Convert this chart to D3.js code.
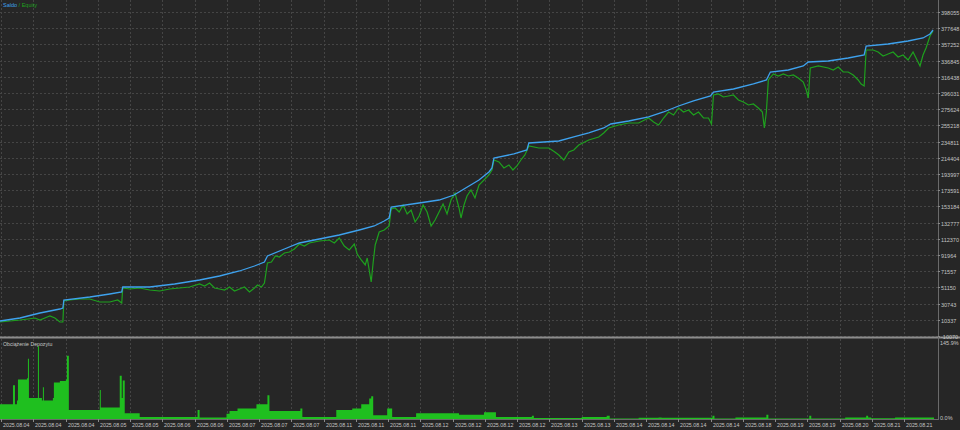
<!DOCTYPE html>
<html><head><meta charset="utf-8">
<script src="https://cdn.jsdelivr.net/npm/d3@7"></script>
<style>html,body{margin:0;padding:0;background:#262626;}svg{display:block;}</style>
</head><body><svg id="c" width="960" height="430"></svg>
<script>
// ---- data ----
const yTickLabels = ["398055","377648","357252","336845","316438","296031","275624","255218","234811","214404","193997","173591","153184","132777","112370","91964","71557","51150","30743","10337","-10070"];
const xTickLabels = ["2025.08.04","2025.08.04","2025.08.04","2025.08.05","2025.08.05","2025.08.06","2025.08.06","2025.08.07","2025.08.07","2025.08.07","2025.08.11","2025.08.11","2025.08.11","2025.08.12","2025.08.12","2025.08.12","2025.08.12","2025.08.13","2025.08.13","2025.08.14","2025.08.14","2025.08.14","2025.08.14","2025.08.18","2025.08.19","2025.08.19","2025.08.20","2025.08.21","2025.08.21"];
const marginLabels = ["145.9%","0.0%"];
const marginMax = 145.9;
// [deal index, balance]
const balance = [[0,8826],[20,12605],[40,18903],[60,23942],[63,25202],[64,35279],[90,39058],[110,42837],[122,45357],[123,51655],[150,51655],[175,55434],[200,60473],[220,65512],[240,71811],[255,78109],[265,83148],[268,90706],[285,99524],[300,107082],[320,112121],[340,117160],[360,123458],[375,128497],[385,134796],[390,138575],[392,152431],[420,157470],[440,161249],[455,167548],[465,175106],[470,178885],[480,186443],[490,196521],[493,201560],[495,214157],[515,219195],[528,224234],[530,233052],[545,234312],[560,235572],[575,240610],[590,245649],[605,251948],[612,256986],[630,260766],[650,265804],[665,272103],[680,279661],[695,285960],[712,292258],[715,297297],[735,301076],[755,307374],[768,312413],[772,322491],[790,325010],[805,330049],[810,335088],[830,336348],[850,340127],[866,343906],[868,355243],[890,357762],[910,361542],[925,365321],[932,370359],[935,375398]];
// [deal index, equity]
const equity = [[0,7570],[10,8830],[20,10090],[28,11340],[35,12600],[40,10090],[45,12600],[50,15120],[55,12600],[60,7570],[63,7570],[64,34020],[70,35280],[80,36540],[90,36540],[100,32760],[110,32760],[118,35280],[122,31500],[123,50400],[130,49140],[140,50400],[150,47880],[160,46620],[170,49140],[180,50400],[190,51660],[200,55430],[205,52920],[210,56690],[215,50400],[220,49140],[225,47880],[230,51660],[235,46620],[240,49140],[245,51660],[250,45360],[255,50400],[258,54180],[262,51660],[265,56690],[268,81890],[272,83150],[276,90710],[280,89450],[285,94490],[290,95750],[295,99520],[300,105820],[305,103300],[310,107080],[320,109600],[330,110860],[335,107080],[340,113380],[345,103300],[350,98260],[355,105820],[358,93230],[362,85670],[366,79370],[368,88190],[370,73070],[372,57960],[374,83150],[376,104560],[380,120940],[385,123460],[390,128500],[392,149910],[396,151170],[400,146130],[404,154950],[408,143610],[412,148650],[416,133540],[420,141090],[424,154950],[428,146130],[432,128500],[436,136060],[440,146130],[444,156210],[448,143610],[452,161250],[456,170070],[460,151170],[462,138580],[465,154950],[468,166290],[472,173850],[476,163770],[480,180140],[485,186440],[490,192740],[493,199040],[495,211640],[500,209120],[505,201560],[510,205340],[514,199040],[518,204080],[522,211640],[526,217940],[530,229270],[540,226750],[550,226750],[556,221720],[560,217940],[565,211640],[570,221720],[575,224240],[580,230530],[590,236830],[600,240610],[605,245650],[610,251950],[620,255720],[630,258250],[640,258250],[650,264540],[655,259510],[660,255720],[665,264540],[670,272100],[675,268320],[680,277140],[685,272100],[690,274620],[695,268320],[700,272100],[705,264540],[710,264540],[713,256990],[715,293520],[720,294780],[725,291000],[730,292260],[735,293520],[740,287220],[745,284700],[750,280920],[755,282180],[760,277140],[764,272100],[766,251950],[768,272100],[770,312410],[775,319970],[780,317450],[785,319970],[790,317450],[795,318710],[800,314930],[805,309890],[808,299820],[810,289740],[812,327530],[820,330050],[830,327530],[835,325010],[840,328790],[845,322490],[850,322490],[855,318710],[860,312410],[863,307370],[866,304860],[868,350200],[875,350200],[880,347680],[885,342650],[890,345170],[895,347680],[900,341390],[905,343910],[910,337610],[915,347680],[918,340130],[922,330050],[925,343910],[928,352730],[932,367840],[935,374140]];
// [deal index, margin load %]
const marginLoad = [[0,28],[12,28],[13,64],[15,28],[17,35],[18,75],[27,77],[28,114],[29,40],[37,40],[38,138],[39,40],[42,35],[43,60],[44,35],[53,40],[54,69],[60,72],[66,75],[67,120],[69,17],[99,17],[100,55],[101,22],[119,22],[120,82],[122,40],[123,73],[125,11],[140,4],[197,4],[198,17],[200,3],[226,3],[227,10],[230,15],[238,20],[257,28],[267,28],[268,45],[270,15],[300,15],[301,20],[303,4],[337,17],[353,20],[362,28],[370,39],[372,43],[374,7],[388,20],[393,4],[417,11],[460,8],[485,13],[497,4],[533,6],[535,2],[583,4],[608,6],[611,1],[640,2.5],[660,3],[663,2.5],[713,2.5],[714,6],[716,1],[737,3],[767,3],[768,8],[770,1],[810,1],[811,6],[813,1],[847,3],[868,6],[870,3],[873,1.5],[897,3],[935,3],[936,0]];

// ---- layout ----
const W = 960, H = 430;
const plotR = 938;
const top1 = 0, bot1 = 336.5;
const top2 = 339, bot2 = 419;
const font = "'Liberation Sans', Arial, sans-serif";
const txtCol = "#c4c4c4", gridCol = "#454545";

const svg = d3.select("#c");
svg.append("rect").attr("width", W).attr("height", H).attr("fill", "#262626");

const x = d3.scaleLinear().domain([0, 940]).range([0, plotR]);
const yVals = yTickLabels.map(Number);
const y = d3.scaleLinear().domain([d3.min(yVals), d3.max(yVals)]).range([336, 12]);
const ym = d3.scaleLinear().domain([0, marginMax]).range([bot2, 342]);
const xt = d3.scalePoint().domain(d3.range(xTickLabels.length)).range([1, 904]);

// grid
const g = svg.append("g").attr("stroke", gridCol).attr("stroke-width", 1).attr("stroke-dasharray", "2,2");
xTickLabels.forEach((d, i) => {
  const xx = Math.round(xt(i)) + 0.5;
  g.append("line").attr("x1", xx).attr("x2", xx).attr("y1", top1).attr("y2", bot1);
  g.append("line").attr("x1", xx).attr("x2", xx).attr("y1", top2).attr("y2", bot2);
});
yVals.forEach(v => {
  const yy = Math.round(y(v)) + 0.5;
  g.append("line").attr("x1", 0).attr("x2", plotR).attr("y1", yy).attr("y2", yy);
});

// clip for top panel
svg.append("clipPath").attr("id", "cp1").append("rect").attr("x", 0).attr("y", top1).attr("width", plotR).attr("height", bot1 - top1);

const line = d3.line().x(d => x(d[0])).y(d => y(d[1]));
svg.append("path").datum(equity).attr("clip-path", "url(#cp1)").attr("d", line)
  .attr("fill", "none").attr("stroke", "#1ea01e").attr("stroke-width", 1.2);
svg.append("path").datum(balance).attr("clip-path", "url(#cp1)").attr("d", line)
  .attr("fill", "none").attr("stroke", "#3ea2ee").attr("stroke-width", 1.3);

// margin area
const area = d3.area().curve(d3.curveStepAfter).x(d => x(d[0])).y0(bot2).y1(d => ym(d[1]));
svg.append("path").datum(marginLoad).attr("d", area).attr("fill", "#1fbf1f");

// separators & axis lines
svg.append("line").attr("x1", 0).attr("x2", W).attr("y1", 337.5).attr("y2", 337.5).attr("stroke", "#8c8c8c").attr("stroke-width", 2);
svg.append("line").attr("x1", plotR + 0.5).attr("x2", plotR + 0.5).attr("y1", 0).attr("y2", bot2 + 1).attr("stroke", "#6a6a6a");
svg.append("line").attr("x1", 0).attr("x2", plotR).attr("y1", bot2 + 0.5).attr("y2", bot2 + 0.5).attr("stroke", "#6a6a6a");

// y labels
const yl = svg.append("g").attr("font-family", font).attr("font-size", 5.5).attr("fill", txtCol);
yVals.forEach((v, i) => {
  const yy = Math.round(y(v)) + 0.5;
  svg.append("line").attr("x1", plotR).attr("x2", plotR + 2).attr("y1", yy).attr("y2", yy).attr("stroke", "#8a8a8a");
  yl.append("text").attr("x", plotR + 3).attr("y", yy + 2).text(yTickLabels[i]);
});
yl.append("text").attr("x", plotR + 2).attr("y", ym(marginMax) + 3).text(marginLabels[0]);
yl.append("text").attr("x", plotR + 2).attr("y", ym(0) + 1).text(marginLabels[1]);

// x labels
const xl = svg.append("g").attr("font-family", font).attr("font-size", 5.3).attr("fill", txtCol);
xTickLabels.forEach((d, i) => {
  const xx = Math.round(xt(i)) + 0.5;
  svg.append("line").attr("x1", xx).attr("x2", xx).attr("y1", bot2).attr("y2", bot2 + 3).attr("stroke", "#8a8a8a");
  xl.append("text").attr("x", xx + 1.5).attr("y", 427).text(d);
});

// legend and panel title
const lg = svg.append("text").attr("x", 3).attr("y", 7).attr("font-family", font).attr("font-size", 5.5);
lg.append("tspan").attr("fill", "#3ea2ee").text("Saldo");
lg.append("tspan").attr("fill", "#1ea01e").text(" / Equity");
svg.append("text").attr("x", 3).attr("y", 346).attr("font-family", font).attr("font-size", 5.2).attr("fill", txtCol).text("Obciążenie Depozytu");
</script></body></html>
